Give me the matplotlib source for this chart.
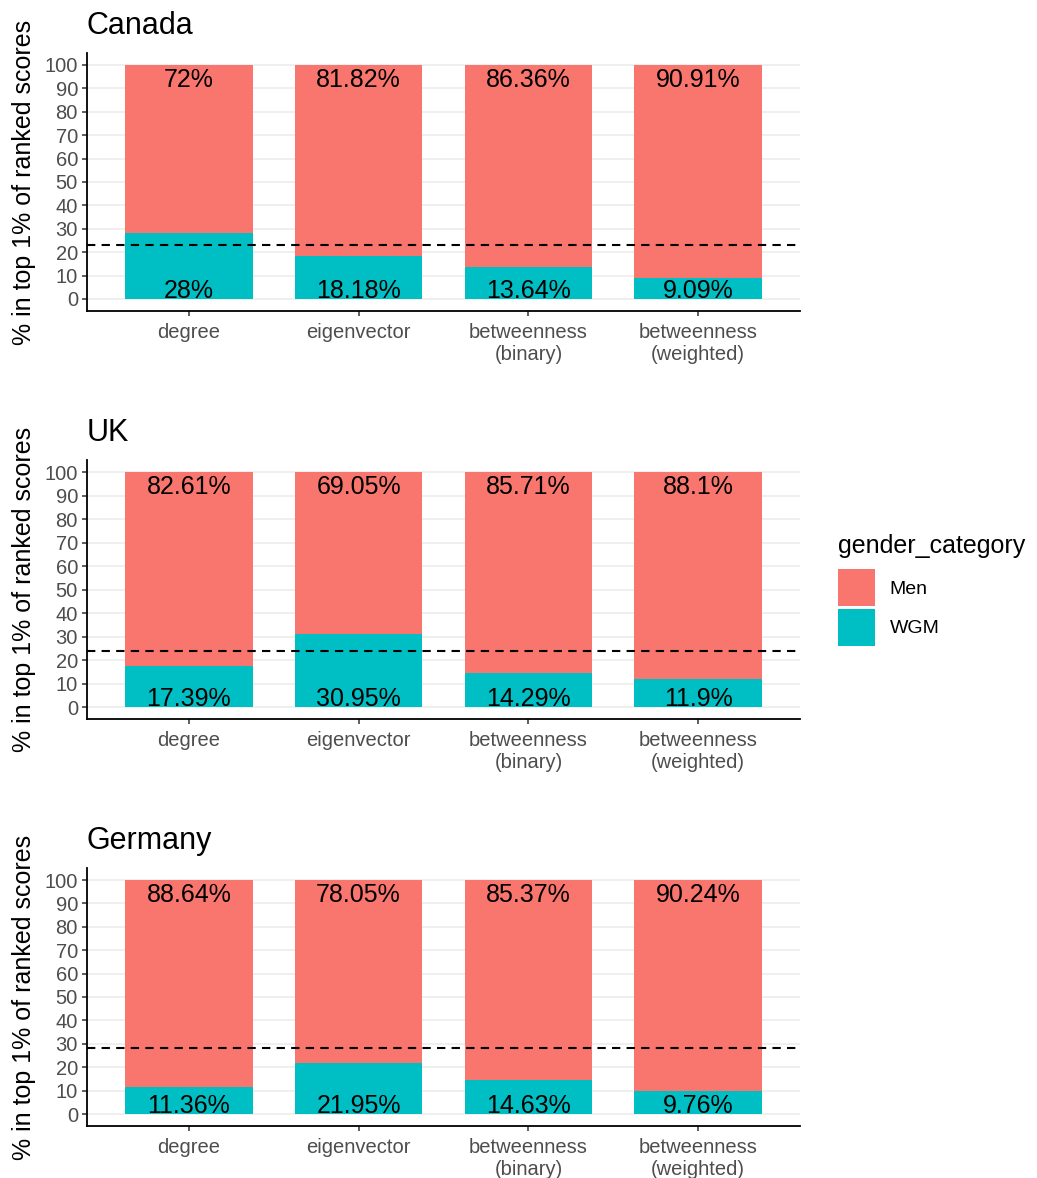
import matplotlib
matplotlib.use('Agg')
import matplotlib.pyplot as plt
from matplotlib.patches import Patch

plt.rcParams['font.family'] = ['Liberation Sans', 'DejaVu Sans']

measures = ["degree", "eigenvector", "betweenness\n(binary)", "betweenness\n(weighted)"]
countries = ["Canada", "UK", "Germany"]

wgm_canada = [28, 18.18, 13.64, 9.09]
men_canada = [72, 81.82, 86.36, 90.91]
wgm_uk = [17.39, 30.95, 14.29, 11.9]
men_uk = [82.61, 69.05, 85.71, 88.1]
wgm_germany = [11.36, 21.95, 14.63, 9.76]
men_germany = [88.64, 78.05, 85.37, 90.24]
baselines = [23.1, 23.8, 28.2]

men_color = '#F8766D'
wgm_color = '#00BFC4'

panels = [
    (wgm_canada, men_canada),
    (wgm_uk, men_uk),
    (wgm_germany, men_germany),
]

fig = plt.figure(figsize=(10.37, 11.78), dpi=100)

# axes boxes in pixels: (top, bottom) of each panel
px_boxes = [(53.3, 310.7), (460.3, 718.8), (868.3, 1125.7)]
W, H = 1037, 1178
left_px, right_px = 87, 800

for i, (country, (wgm, men), base) in enumerate(zip(countries, panels, baselines)):
    top, bot = px_boxes[i]
    ax = fig.add_axes([left_px / W, 1 - bot / H, (right_px - left_px) / W, (bot - top) / H])
    x = list(range(len(measures)))
    ax.bar(x, wgm, width=0.75, color=wgm_color, zorder=2)
    ax.bar(x, men, width=0.75, bottom=wgm, color=men_color, zorder=2)
    for xi, w, m in zip(x, wgm, men):
        ax.text(xi, 98.8, f"{m:g}%", ha='center', va='top', fontsize=18, zorder=4)
        ax.text(xi, 0.6, f"{w:g}%", ha='center', va='baseline', fontsize=18, zorder=4)
    ax.axhline(base, color='black', lw=1.5, linestyle=(0, (4, 3)), zorder=3)

    ax.set_xlim(-0.6, 3.6)
    ax.set_ylim(-5, 105)
    ax.set_yticks(range(0, 101, 10))
    ax.set_xticks(x)
    ax.set_xticklabels(measures)
    ax.yaxis.grid(True, color='#EBEBEB', lw=1.1, zorder=0)
    ax.set_axisbelow(True)
    for s in ['top', 'right']:
        ax.spines[s].set_visible(False)
    for s in ['left', 'bottom']:
        ax.spines[s].set_linewidth(1.3)
        ax.spines[s].set_color('black')
    ax.tick_params(axis='both', labelsize=14.5, labelcolor='#4D4D4D',
                   color='#333333', length=3.5, width=1.1, pad=3)
    ax.tick_params(axis='x', pad=5)
    ax.set_ylabel("% in top 1% of ranked scores", fontsize=18)
    ax.yaxis.set_label_coords(-0.071, 0.5)
    ax.set_title(country, loc='left', fontsize=22, pad=14)

handles = [Patch(facecolor=men_color, label='Men'), Patch(facecolor=wgm_color, label='WGM')]
leg = fig.legend(handles=handles, title='gender_category', loc='upper left',
                 bbox_to_anchor=(838 / W, 1 - 534 / H), frameon=False,
                 borderpad=0, borderaxespad=0,
                 fontsize=14, title_fontsize=18, handlelength=1.9, handleheight=2.55,
                 handletextpad=0.75, labelspacing=0.15, alignment='left')
# extra gap between legend title and keys
leg._legend_box.sep = 8

fig.savefig('out.png', dpi=100)
